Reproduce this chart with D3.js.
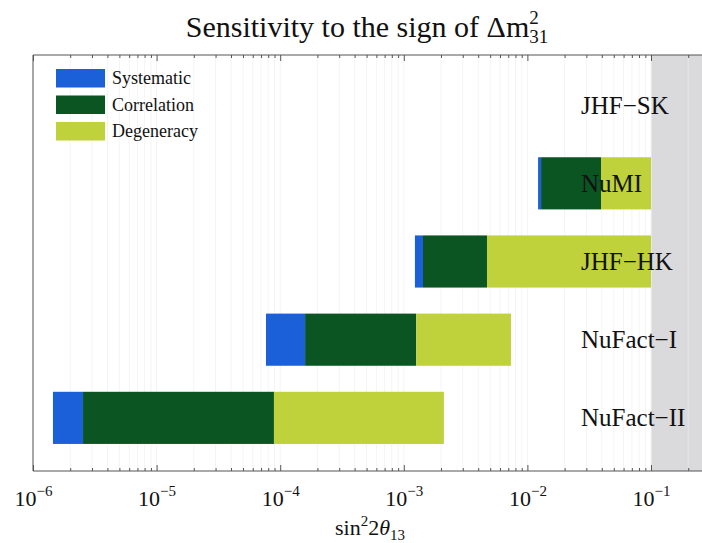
<!DOCTYPE html>
<html>
<head>
<meta charset="utf-8">
<script src="https://cdn.jsdelivr.net/npm/d3@7"></script>
<style>
  body { margin: 0; background: #fff; }
  text { font-family: "Liberation Serif", "DejaVu Serif", serif; fill: #111; }
</style>
</head>
<body>
<script>
var width = 702;
var height = 543;

// experiments, top to bottom
var experiments = ["JHF-SK", "NuMI", "JHF-HK", "NuFact-I", "NuFact-II"];
var labels = ["JHF\u2212SK", "NuMI", "JHF\u2212HK", "NuFact\u2212I", "NuFact\u2212II"];
// limits on sin^2 2theta13 (null = no reach)
var systematicLimit  = [null, 0.0122, 1.23e-3, 7.67e-5, 1.45e-6];
var correlationLimit = [null, 0.0129, 1.43e-3, 1.59e-4, 2.54e-6];
var degeneracyLimit  = [null, 0.0394, 4.71e-3, 1.26e-3, 8.9e-5];
var finalLimit       = [null, 0.1,    0.1,     7.36e-3, 2.11e-3];

var seriesNames = ["Systematic", "Correlation", "Degeneracy"];
var seriesColors = ["#1b5fd9", "#0b5522", "#bfd13b"];

var majorTicks = [1e-6, 1e-5, 1e-4, 1e-3, 1e-2, 1e-1];
var majorExps = ["\u22126", "\u22125", "\u22124", "\u22123", "\u22122", "\u22121"];
var minorTicks = [];
[1e-6, 1e-5, 1e-4, 1e-3, 1e-2, 1e-1].forEach(function(d) {
  for (var k = 2; k <= 9; k++) minorTicks.push(d * k);
});

// plot box (note: "top" is taken by window.top)
var plotLeft = 33, plotRight = 702, plotTop = 55, plotBottom = 471;

var x = d3.scaleLog().domain([1e-6, 1e-1]).range([plotLeft, 651]);
var y = d3.scaleBand().domain(experiments).range([66, 457])
        .paddingInner(0.333).paddingOuter(0.167);

var svg = d3.select("body").append("svg")
        .attr("width", width)
        .attr("height", height);

// excluded region above 0.1
svg.append("rect")
  .attr("x", x(0.1))
  .attr("y", plotTop)
  .attr("width", plotRight - x(0.1))
  .attr("height", plotBottom - plotTop)
  .attr("fill", "#dadadd");

// faint grid lines
svg.append("g").selectAll("line")
  .data(minorTicks.concat(majorTicks))
  .join("line")
  .attr("x1", function(d) { return x(d); })
  .attr("x2", function(d) { return x(d); })
  .attr("y1", plotTop)
  .attr("y2", plotBottom)
  .attr("stroke", function(d) { return d > 0.1 ? "#e6e6e8" : "#f4f4f4"; })
  .attr("stroke-width", 1);

// bars
var segments = [];
experiments.forEach(function(name, i) {
  if (systematicLimit[i] == null) return;
  var edges = [systematicLimit[i], correlationLimit[i], degeneracyLimit[i], finalLimit[i]];
  for (var s = 0; s < 3; s++) {
    segments.push({name: name, from: edges[s], to: edges[s + 1], s: s});
  }
});

svg.append("g").selectAll("rect")
  .data(segments)
  .join("rect")
  .attr("x", function(d) { return x(d.from); })
  .attr("y", function(d) { return y(d.name); })
  .attr("width", function(d) { return x(d.to) - x(d.from); })
  .attr("height", y.bandwidth())
  .attr("fill", function(d) { return seriesColors[d.s]; });

// experiment labels
svg.append("g").selectAll("text")
  .data(experiments)
  .join("text")
  .attr("x", 581)
  .attr("y", function(d) { return y(d) + y.bandwidth() / 2; })
  .attr("dy", "0.34em")
  .attr("font-size", 25)
  .text(function(d, i) { return labels[i]; });

// frame
svg.append("line").attr("x1", plotLeft).attr("x2", plotRight).attr("y1", plotTop).attr("y2", plotTop)
  .attr("stroke", "#555");
svg.append("line").attr("x1", plotLeft).attr("x2", plotRight).attr("y1", plotBottom).attr("y2", plotBottom)
  .attr("stroke", "#555");
svg.append("line").attr("x1", plotLeft).attr("x2", plotLeft).attr("y1", plotTop).attr("y2", plotBottom)
  .attr("stroke", "#555");

// axes (ticks pointing inward)
var bottomMajor = svg.append("g")
  .attr("transform", "translate(0," + plotBottom + ")")
  .call(d3.axisBottom(x).tickValues(majorTicks).tickSize(-6).tickFormat(function() { return ""; }));
svg.append("g")
  .attr("transform", "translate(0," + plotBottom + ")")
  .call(d3.axisBottom(x).tickValues(minorTicks).tickSize(-3).tickFormat(""));
svg.append("g")
  .attr("transform", "translate(0," + plotTop + ")")
  .call(d3.axisTop(x).tickValues(majorTicks).tickSize(-6).tickFormat(""));
svg.append("g")
  .attr("transform", "translate(0," + plotTop + ")")
  .call(d3.axisTop(x).tickValues(minorTicks).tickSize(-3).tickFormat(""));

svg.selectAll(".domain").remove();
svg.selectAll(".tick line").attr("stroke", "#555");

// tick labels 10^n
bottomMajor.selectAll(".tick text").each(function(d, i) {
  var t = d3.select(this)
    .attr("y", 35)
    .attr("dy", null)
    .attr("font-size", 22)
    .attr("font-family", "Liberation Serif")
    .attr("fill", "#111")
    .attr("text-anchor", "middle");
  t.append("tspan").text("10");
  t.append("tspan").attr("dy", -10).attr("font-size", 15).text(majorExps[i]);
});

// title
var title = svg.append("text")
  .attr("x", 367)
  .attr("y", 37)
  .attr("text-anchor", "middle")
  .attr("font-size", 30);
title.append("tspan").text("Sensitivity to the sign of \u0394m");
title.append("tspan").attr("dy", -13).attr("font-size", 19).text("2");
title.append("tspan").attr("dx", -9.5).attr("dy", 19).attr("font-size", 19).text("31");

// x axis label
var xLabel = svg.append("text")
  .attr("x", 370)
  .attr("y", 535)
  .attr("text-anchor", "middle")
  .attr("font-size", 22);
xLabel.append("tspan").text("sin");
xLabel.append("tspan").attr("dy", -9).attr("font-size", 15).text("2");
xLabel.append("tspan").attr("dy", 9).text("2");
xLabel.append("tspan").attr("font-style", "italic").text("\u03b8");
xLabel.append("tspan").attr("dy", 5).attr("font-size", 15).text("13");

// legend
var legend = svg.append("g").selectAll("g")
  .data(seriesNames)
  .join("g")
  .attr("transform", function(d, i) { return "translate(56," + (69 + i * 26.5) + ")"; });
legend.append("rect")
  .attr("width", 49)
  .attr("height", 18.5)
  .attr("fill", function(d, i) { return seriesColors[i]; });
legend.append("text")
  .attr("x", 56)
  .attr("y", 15)
  .attr("font-size", 18)
  .text(function(d) { return d; });
</script>
</body>
</html>
